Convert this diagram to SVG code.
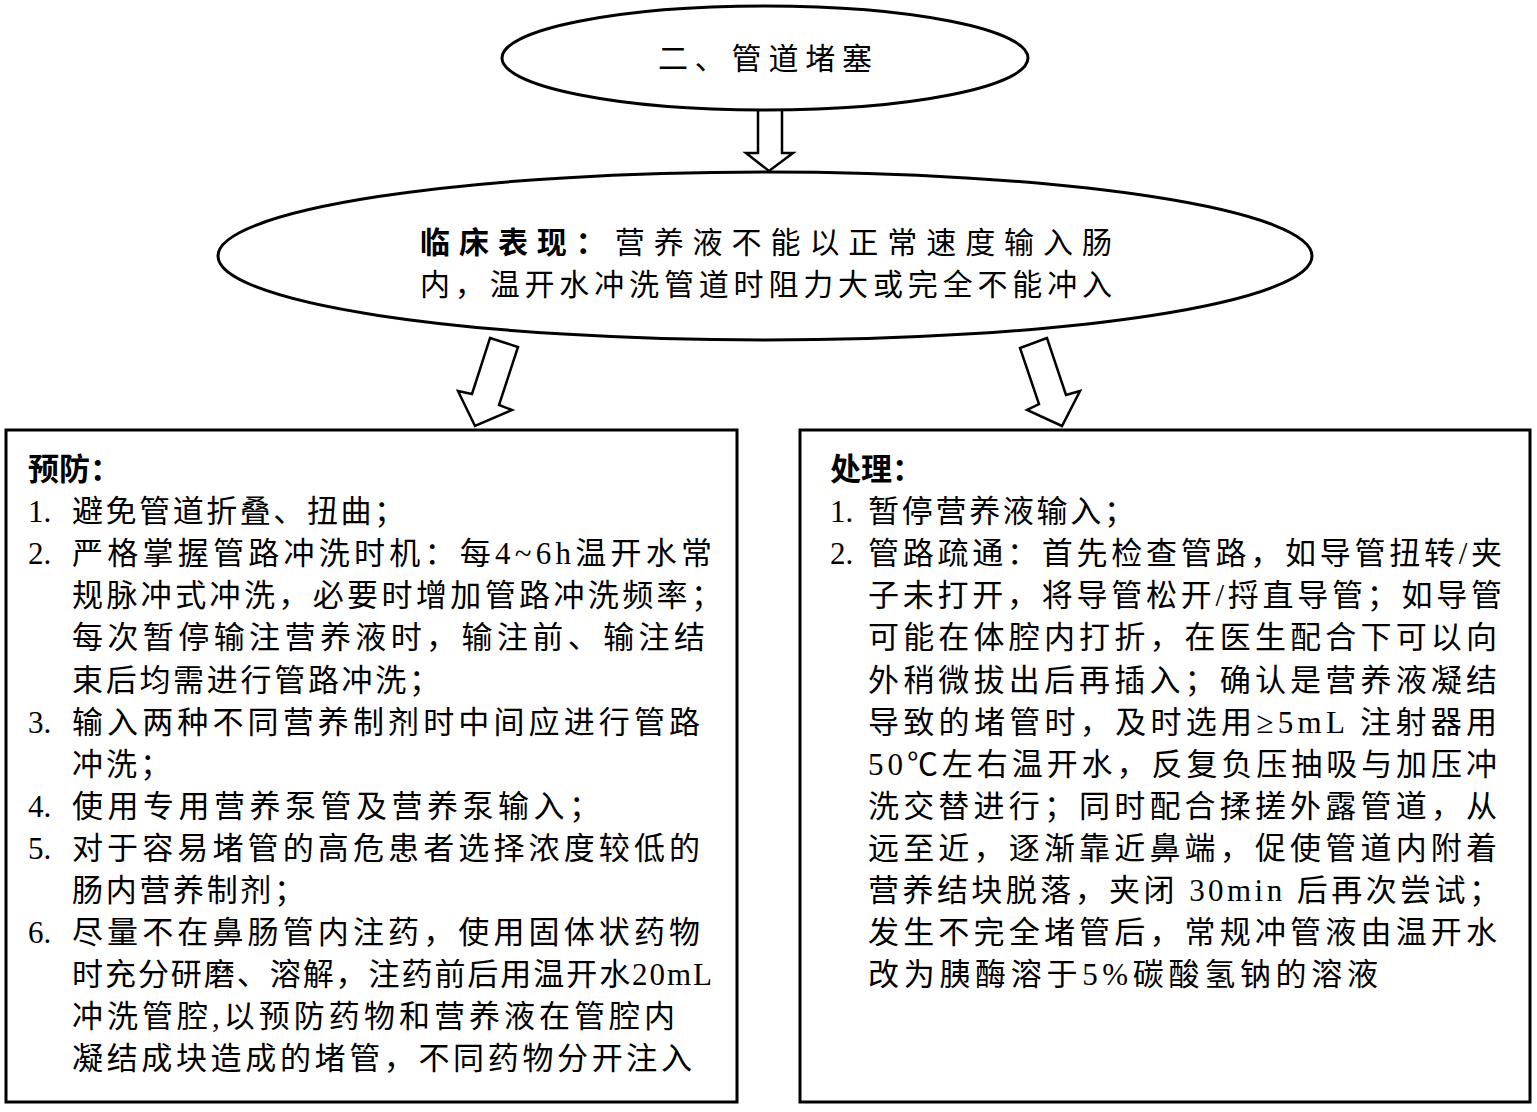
<svg xmlns="http://www.w3.org/2000/svg" width="1537" height="1112" viewBox="0 0 1537 1112">
<style>
.shape{fill:#fff;stroke:#000;stroke-width:3}
.arrow{fill:#fff;stroke:#000;stroke-width:2.5;stroke-linejoin:miter}
text{font-family:"Liberation Serif","Noto Sans CJK SC",serif;fill:#000}
.t{font-size:31px}
.e{font-size:30px}
.b{font-weight:bold}
</style>
<rect x="0" y="0" width="1537" height="1112" fill="#fff"/>
<g id="connectors">
<polygon class="arrow" points="758,108 782,108 782,153 793,153 769,171 746,153 758,153"/>
<polygon class="arrow" points="490,338 518,347 499,405 512,410 475,426 458,391 472,394"/>
<polygon class="arrow" points="1047,338 1020,348 1039,404 1027,410 1062,426 1080,391 1066,395"/>
</g>
<g id="node-title">
<ellipse class="shape" cx="765" cy="58" rx="263" ry="52"/>
<text class="e" x="658" y="69" textLength="214" lengthAdjust="spacing">二、管道堵塞</text>
</g>
<g id="node-symptom">
<ellipse class="shape" cx="765" cy="256" rx="547" ry="84"/>
<text class="e" x="420" y="253" textLength="692" lengthAdjust="spacing"><tspan class="b">临床表现：</tspan>营养液不能以正常速度输入肠</text>
<text class="e" x="420" y="295" textLength="692" lengthAdjust="spacing">内，温开水冲洗管道时阻力大或完全不能冲入</text>
</g>
<g id="node-prevention">
<rect class="shape" x="6" y="430" width="731" height="672"/>
<text class="t b" x="28" y="480">预防：</text>
<text class="t" x="28" y="522">1.</text>
<text class="t" x="72" y="522" textLength="333" lengthAdjust="spacing">避免管道折叠、扭曲；</text>
<text class="t" x="28" y="564">2.</text>
<text class="t" x="72" y="564" textLength="640" lengthAdjust="spacing">严格掌握管路冲洗时机：每4~6h温开水常</text>
<text class="t" x="72" y="606" textLength="650" lengthAdjust="spacing">规脉冲式冲洗，必要时增加管路冲洗频率；</text>
<text class="t" x="72" y="648" textLength="633" lengthAdjust="spacing">每次暂停输注营养液时，输注前、输注结</text>
<text class="t" x="72" y="691" textLength="368" lengthAdjust="spacing">束后均需进行管路冲洗；</text>
<text class="t" x="28" y="733">3.</text>
<text class="t" x="72" y="733" textLength="628" lengthAdjust="spacing">输入两种不同营养制剂时中间应进行管路</text>
<text class="t" x="72" y="775" textLength="99" lengthAdjust="spacing">冲洗；</text>
<text class="t" x="28" y="817">4.</text>
<text class="t" x="72" y="817" textLength="528" lengthAdjust="spacing">使用专用营养泵管及营养泵输入；</text>
<text class="t" x="28" y="859">5.</text>
<text class="t" x="72" y="859" textLength="628" lengthAdjust="spacing">对于容易堵管的高危患者选择浓度较低的</text>
<text class="t" x="72" y="901" textLength="233" lengthAdjust="spacing">肠内营养制剂；</text>
<text class="t" x="28" y="943">6.</text>
<text class="t" x="72" y="943" textLength="628" lengthAdjust="spacing">尽量不在鼻肠管内注药，使用固体状药物</text>
<text class="t" x="72" y="985" textLength="640" lengthAdjust="spacing">时充分研磨、溶解，注药前后用温开水20mL</text>
<text class="t" x="72" y="1027" textLength="603" lengthAdjust="spacing">冲洗管腔,以预防药物和营养液在管腔内</text>
<text class="t" x="72" y="1069" textLength="620" lengthAdjust="spacing">凝结成块造成的堵管，不同药物分开注入</text>
</g>
<g id="node-treatment">
<rect class="shape" x="800" y="430" width="730" height="672"/>
<text class="t b" x="830" y="480">处理：</text>
<text class="t" x="830" y="522">1.</text>
<text class="t" x="868" y="522" textLength="267" lengthAdjust="spacing">暂停营养液输入；</text>
<text class="t" x="830" y="564">2.</text>
<text class="t" x="868" y="564" textLength="634" lengthAdjust="spacing">管路疏通：首先检查管路，如导管扭转/夹</text>
<text class="t" x="868" y="606" textLength="634" lengthAdjust="spacing">子未打开，将导管松开/捋直导管；如导管</text>
<text class="t" x="868" y="648" textLength="629" lengthAdjust="spacing">可能在体腔内打折，在医生配合下可以向</text>
<text class="t" x="868" y="691" textLength="629" lengthAdjust="spacing">外稍微拔出后再插入；确认是营养液凝结</text>
<text class="t" x="868" y="733" textLength="629" lengthAdjust="spacing">导致的堵管时，及时选用≥5mL 注射器用</text>
<text class="t" x="868" y="775" textLength="629" lengthAdjust="spacing">50℃左右温开水，反复负压抽吸与加压冲</text>
<text class="t" x="868" y="817" textLength="629" lengthAdjust="spacing">洗交替进行；同时配合揉搓外露管道，从</text>
<text class="t" x="868" y="859" textLength="629" lengthAdjust="spacing">远至近，逐渐靠近鼻端，促使管道内附着</text>
<text class="t" x="868" y="901" textLength="632" lengthAdjust="spacing">营养结块脱落，夹闭 30min 后再次尝试；</text>
<text class="t" x="868" y="943" textLength="629" lengthAdjust="spacing">发生不完全堵管后，常规冲管液由温开水</text>
<text class="t" x="868" y="985" textLength="510" lengthAdjust="spacing">改为胰酶溶于5%碳酸氢钠的溶液</text>
</g>
</svg>
